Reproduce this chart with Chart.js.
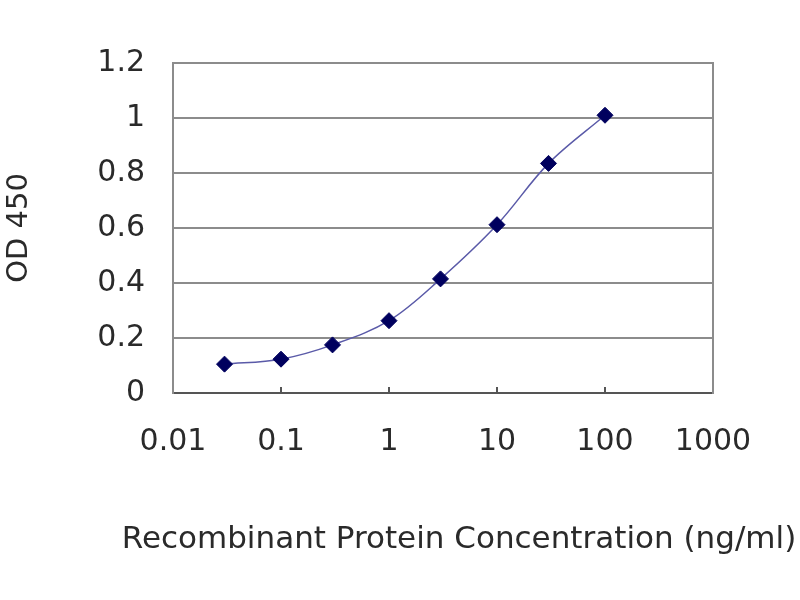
<!DOCTYPE html>
<html>
<head>
<meta charset="utf-8">
<script src="https://cdn.jsdelivr.net/npm/chart.js@4/dist/chart.umd.min.js"></script>
<style>
  html, body { margin: 0; padding: 0; background: #fff; }
  #wrap { width: 800px; height: 600px; }
</style>
</head>
<body>
<div id="wrap"><canvas id="chart" width="800" height="600"></canvas></div>
<script>
// concentration (ng/ml) vs OD 450
const concentrations = [0.03, 0.1, 0.3, 1, 3, 10, 30, 100];
const odValues       = [0.105, 0.123, 0.175, 0.263, 0.415, 0.612, 0.835, 1.01];
const xTickValues    = [0.01, 0.1, 1, 10, 100, 1000];
const xTitle = 'Recombinant Protein Concentration (ng/ml)';

const textColor = '#2a2a2a';
const tickFont  = { family: 'DejaVu Sans', size: 30 };

const points = concentrations.map((c, i) => ({ x: c, y: odValues[i] }));

// the x title is wider than the plot, so the scale title would squeeze it;
// draw it ourselves under the axis instead
const xTitlePlugin = {
    id: 'xTitle',
    afterDraw(chart) {
        const { ctx, chartArea } = chart;
        ctx.save();
        ctx.font = '31px "DejaVu Sans"';
        ctx.fillStyle = textColor;
        ctx.textAlign = 'center';
        ctx.textBaseline = 'middle';
        ctx.fillText(xTitle, (chartArea.left + chartArea.right) / 2 + 16, chartArea.bottom + 147);
        ctx.restore();
    }
};

new Chart(document.getElementById('chart'), {
    type: 'scatter',
    data: {
        datasets: [{
            data: points,
            showLine: true,
            borderColor: '#5a5aa8',
            borderWidth: 1.5,
            tension: 0.35,
            pointStyle: 'rectRot',
            pointRadius: 8,
            pointBackgroundColor: '#00005e',
            pointBorderColor: '#00005e',
            pointBorderWidth: 1
        }]
    },
    options: {
        responsive: false,
        animation: false,
        devicePixelRatio: 1,
        layout: { padding: { top: 63, right: 87, bottom: 0, left: 0 } },
        plugins: { legend: { display: false }, tooltip: { enabled: false } },
        scales: {
            x: {
                type: 'logarithmic',
                min: 0.01,
                max: 1000,
                afterBuildTicks: scale => { scale.ticks = xTickValues.map(v => ({ value: v })); },
                afterFit: scale => { scale.height = 207; },
                ticks: {
                    color: textColor,
                    font: tickFont,
                    padding: 37,
                    maxRotation: 0,
                    autoSkip: false,
                    callback: v => String(v)
                },
                grid: { drawOnChartArea: false, drawTicks: true, tickLength: -6, color: '#555', lineWidth: 2 },
                border: { display: true, color: '#555', width: 2 }
            },
            y: {
                min: 0,
                max: 1.2,
                afterFit: scale => { scale.width = 173; },
                ticks: {
                    stepSize: 0.2,
                    color: textColor,
                    font: tickFont,
                    padding: 28,
                    callback: v => String(Math.round(v * 10) / 10)
                },
                grid: { color: '#8c8c8c', lineWidth: 2, drawTicks: false },
                border: { display: true, color: '#8c8c8c', width: 2 },
                title: {
                    display: true,
                    text: 'OD 450',
                    color: textColor,
                    font: { family: 'DejaVu Sans', size: 29 },
                    padding: { top: 2, bottom: 0 }
                }
            },
            yRight: {
                position: 'right',
                afterFit: scale => { scale.width = 0; },
                ticks: { display: false },
                grid: { display: false },
                border: { display: true, color: '#8c8c8c', width: 2 }
            }
        }
    },
    plugins: [xTitlePlugin]
});
</script>
</body>
</html>
